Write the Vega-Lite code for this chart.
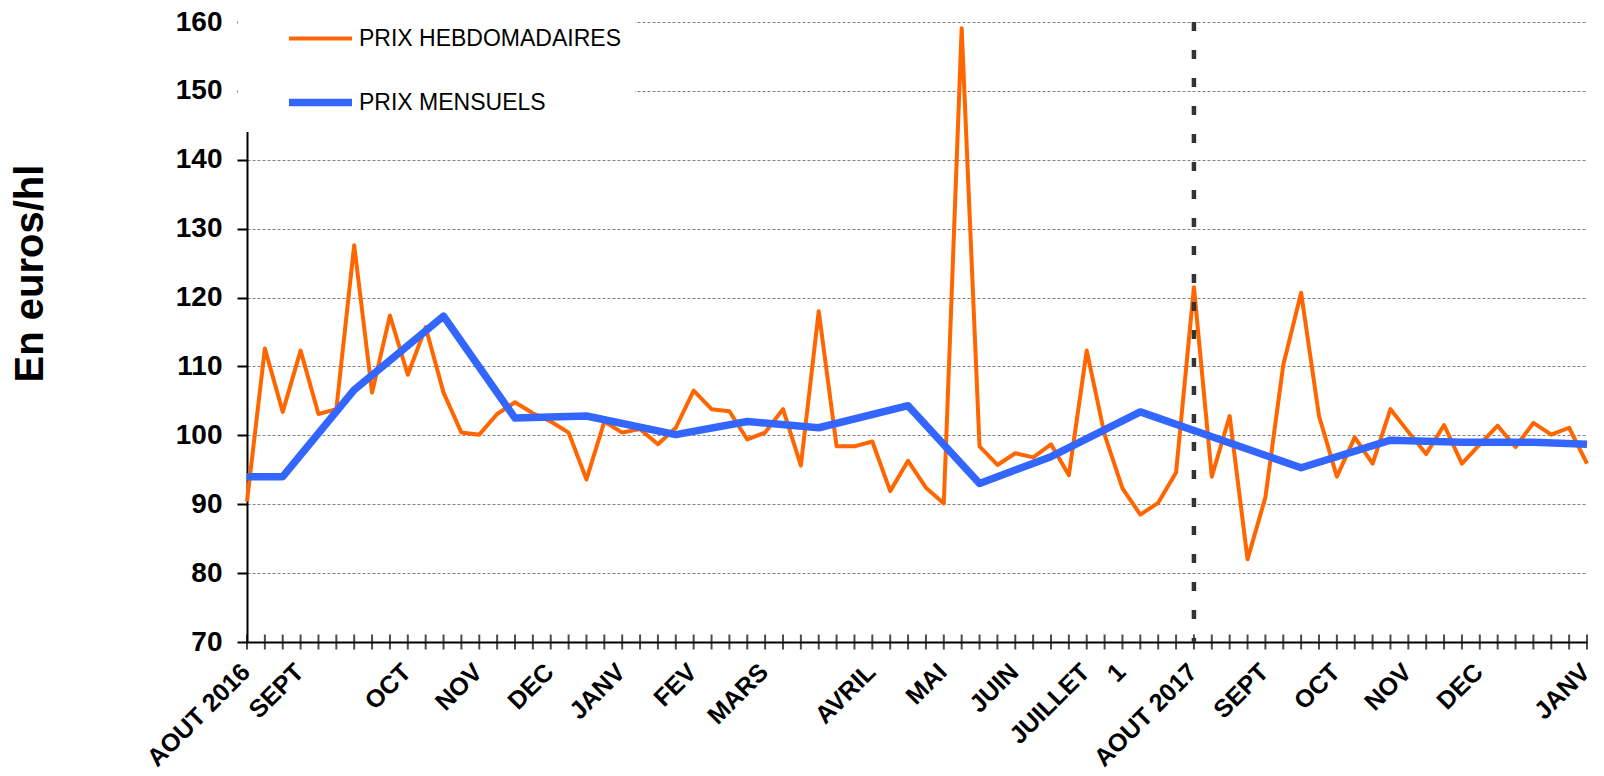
{
 "$schema": "https://vega.github.io/schema/vega-lite/v6.json",
 "autosize": {"type": "none"},
 "width": 1340,
 "height": 620,
 "padding": {"left": 247, "top": 22, "right": 17, "bottom": 134},
 "background": "white",
 "config": {"view": {"stroke": null}, "font": "Liberation Sans"},
 "datasets": {
  "hebdo": [
   {"semaine":0,"prix":90.4},{"semaine":1,"prix":112.6},{"semaine":2,"prix":103.4},{"semaine":3,"prix":112.3},{"semaine":4,"prix":103.1},
   {"semaine":5,"prix":103.8},{"semaine":6,"prix":127.6},{"semaine":7,"prix":106.2},{"semaine":8,"prix":117.4},{"semaine":9,"prix":108.8},
   {"semaine":10,"prix":115.7},{"semaine":11,"prix":106.2},{"semaine":12,"prix":100.4},{"semaine":13,"prix":100.1},{"semaine":14,"prix":103.1},
   {"semaine":15,"prix":104.8},{"semaine":16,"prix":103.2},{"semaine":17,"prix":102.0},{"semaine":18,"prix":100.4},{"semaine":19,"prix":93.6},
   {"semaine":20,"prix":102.0},{"semaine":21,"prix":100.4},{"semaine":22,"prix":100.9},{"semaine":23,"prix":98.7},{"semaine":24,"prix":101.1},
   {"semaine":25,"prix":106.5},{"semaine":26,"prix":103.8},{"semaine":27,"prix":103.5},{"semaine":28,"prix":99.4},{"semaine":29,"prix":100.4},
   {"semaine":30,"prix":103.8},{"semaine":31,"prix":95.6},{"semaine":32,"prix":118.0},{"semaine":33,"prix":98.4},{"semaine":34,"prix":98.4},
   {"semaine":35,"prix":99.1},{"semaine":36,"prix":91.9},{"semaine":37,"prix":96.3},{"semaine":38,"prix":92.4},{"semaine":39,"prix":90.1},
   {"semaine":40,"prix":159.1},{"semaine":41,"prix":98.4},{"semaine":42,"prix":95.7},{"semaine":43,"prix":97.4},{"semaine":44,"prix":96.8},
   {"semaine":45,"prix":98.7},{"semaine":46,"prix":94.2},{"semaine":47,"prix":112.3},{"semaine":48,"prix":100.1},{"semaine":49,"prix":92.3},
   {"semaine":50,"prix":88.5},{"semaine":51,"prix":90.2},{"semaine":52,"prix":94.6},{"semaine":53,"prix":121.5},{"semaine":54,"prix":94.0},
   {"semaine":55,"prix":102.8},{"semaine":56,"prix":82.0},{"semaine":57,"prix":91.0},{"semaine":58,"prix":110.2},{"semaine":59,"prix":120.7},
   {"semaine":60,"prix":102.8},{"semaine":61,"prix":94.0},{"semaine":62,"prix":99.7},{"semaine":63,"prix":95.9},{"semaine":64,"prix":103.8},
   {"semaine":65,"prix":100.5},{"semaine":66,"prix":97.3},{"semaine":67,"prix":101.5},{"semaine":68,"prix":95.9},{"semaine":69,"prix":98.7},
   {"semaine":70,"prix":101.4},{"semaine":71,"prix":98.3},{"semaine":72,"prix":101.8},{"semaine":73,"prix":100.1},{"semaine":74,"prix":101.1},
   {"semaine":75,"prix":95.9}
  ],
  "mensuel": [
   {"semaine":0,"prix":94.0},{"semaine":2,"prix":94.0},{"semaine":6,"prix":106.6},{"semaine":11,"prix":117.3},{"semaine":15,"prix":102.5},
   {"semaine":19,"prix":102.8},{"semaine":24,"prix":100.1},{"semaine":28,"prix":102.0},{"semaine":32,"prix":101.1},{"semaine":37,"prix":104.3},
   {"semaine":41,"prix":93.0},{"semaine":45,"prix":96.9},{"semaine":50,"prix":103.4},{"semaine":59,"prix":95.3},{"semaine":64,"prix":99.3},
   {"semaine":68,"prix":99.0},{"semaine":72,"prix":99.0},{"semaine":75,"prix":98.7}
  ],
  "separation": [{"semaine": 53}]
 },
 "layer": [
  {
   "data": {"name": "hebdo"},
   "mark": {"type": "tick", "orient": "vertical", "color": "black", "thickness": 2, "size": 15},
   "encoding": {
    "x": {"field": "semaine", "type": "quantitative", "scale": {"domain": [0, 75], "nice": false, "zero": false},
     "axis": {"values": [0,3,9,13,17,21,25,29,35,39,43,47,49,53,57,61,65,69,75],
      "labelExpr": "{'0':'AOUT 2016','3':'SEPT','9':'OCT','13':'NOV','17':'DEC','21':'JANV','25':'FEV','29':'MARS','35':'AVRIL','39':'MAI','43':'JUIN','47':'JUILLET','49':'1','53':'AOUT 2017','57':'SEPT','61':'OCT','65':'NOV','69':'DEC','75':'JANV'}[datum.value]",
      "grid": false, "ticks": false, "title": null, "labelAngle": -45, "labelAlign": "right", "labelBaseline": "top",
      "labelFont": "Liberation Sans", "labelFontSize": 25, "labelFontWeight": "bold", "labelColor": "black", "labelPadding": 17, "labelOffset": -10,
      "labelOverlap": false, "labelBound": false, "labelFlush": false, "domainColor": "black", "domainWidth": 2}},
    "y": {"datum": 70, "type": "quantitative", "scale": {"domain": [70, 160], "nice": false, "zero": false},
     "axis": {"values": [70,80,90,100,110,120,130,140,150,160], "title": "En euros/hl",
      "titleFont": "Liberation Sans", "titleFontSize": 40, "titleFontWeight": "bold", "titleColor": "black",
      "titleAngle": 270, "titleAlign": "center", "titleBaseline": "middle", "titleX": -217, "titleY": 251,
      "labelFont": "Liberation Sans", "labelFontSize": 28, "labelFontWeight": "bold", "labelColor": "black", "labelPadding": 15,
      "tickSize": 10, "tickWidth": 2, "tickColor": "black", "domainColor": "black", "domainWidth": 2,
      "grid": true, "gridColor": "#808080", "gridDash": [3, 2], "gridWidth": 1}}
   }
  },
  {
   "data": {"name": "hebdo"},
   "transform": [{"calculate": "'PRIX HEBDOMADAIRES'", "as": "serie"}],
   "mark": {"type": "line", "strokeJoin": "round"},
   "encoding": {
    "x": {"field": "semaine", "type": "quantitative"},
    "y": {"field": "prix", "type": "quantitative"},
    "color": {"field": "serie", "type": "nominal",
     "scale": {"domain": ["PRIX HEBDOMADAIRES", "PRIX MENSUELS"], "range": ["#FF6600", "#3366FF"]},
     "legend": {"orient": "none", "legendX": -9, "legendY": -31, "title": null, "fillColor": "white", "padding": 14,
      "symbolType": "stroke", "symbolSize": 3969, "symbolOffset": 33, "labelFont": "Liberation Sans", "labelFontSize": 23,
      "labelColor": "black", "labelOffset": 3, "rowPadding": 16, "labelLimit": 400}},
    "strokeWidth": {"field": "serie", "type": "nominal",
     "scale": {"domain": ["PRIX HEBDOMADAIRES", "PRIX MENSUELS"], "range": [4, 7.5]}}
   }
  },
  {
   "data": {"name": "mensuel"},
   "transform": [{"calculate": "'PRIX MENSUELS'", "as": "serie"}],
   "mark": {"type": "line", "strokeJoin": "round"},
   "encoding": {
    "x": {"field": "semaine", "type": "quantitative"},
    "y": {"field": "prix", "type": "quantitative"},
    "color": {"field": "serie", "type": "nominal"},
    "strokeWidth": {"field": "serie", "type": "nominal"}
   }
  },
  {
   "data": {"name": "separation"},
   "mark": {"type": "rule", "color": "#333333", "strokeWidth": 4.5, "strokeDash": [9, 19]},
   "encoding": {"x": {"field": "semaine", "type": "quantitative"}}
  }
 ]
}
